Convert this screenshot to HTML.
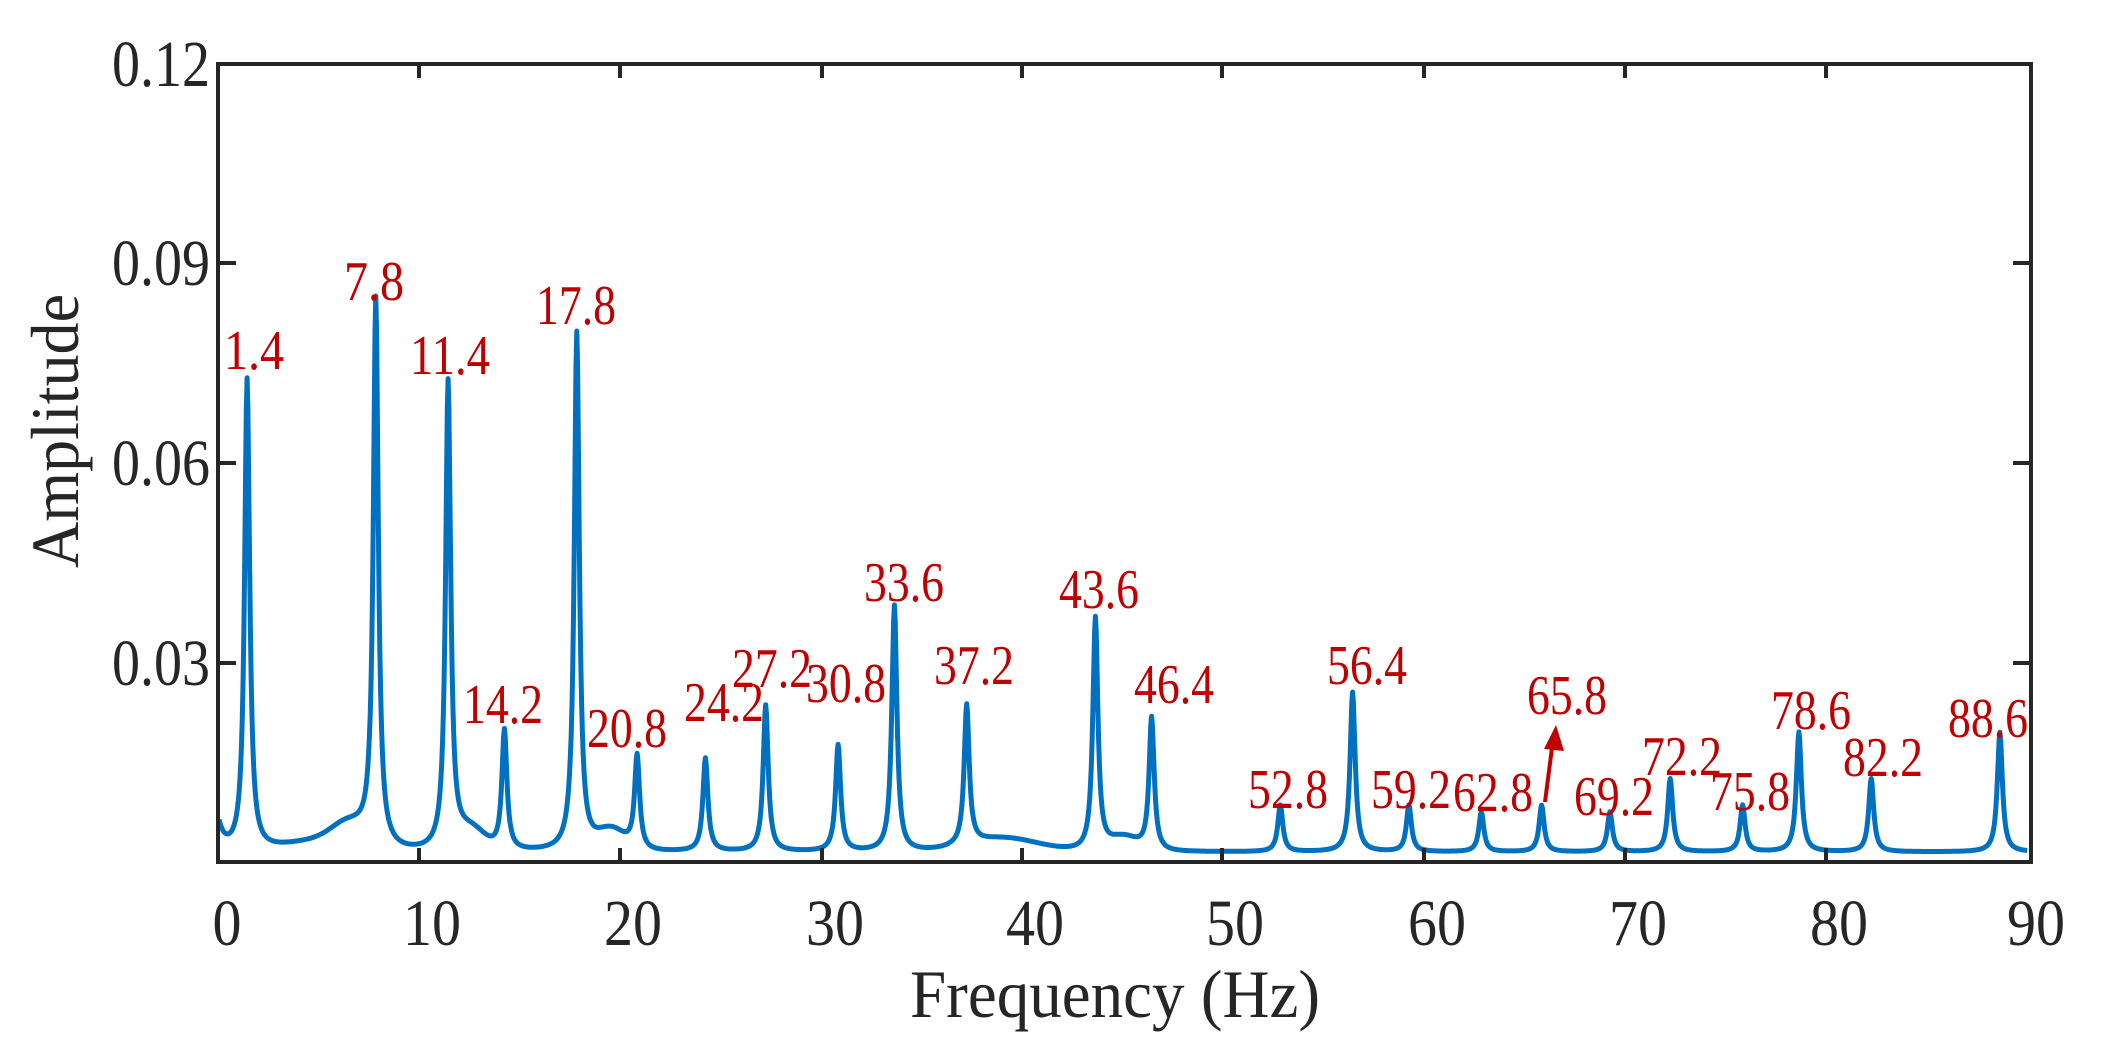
<!DOCTYPE html>
<html><head><meta charset="utf-8"><style>html,body{margin:0;padding:0;background:#fff}svg{display:block}</style></head>
<body>
<svg id="s" width="2104" height="1048" viewBox="0 0 2104 1048" xmlns="http://www.w3.org/2000/svg" font-family="Liberation Serif, serif">
<rect width="2104" height="1048" fill="#fff"/>
<path id="curve" d="" fill="none" stroke="#0070c0" stroke-width="5" stroke-linejoin="round"/>
<g stroke="#262626" stroke-width="4" fill="none">
<rect x="218" y="64" width="1813" height="798"/>
<path d="M419,862v-14M620,862v-14M822,862v-14M1022,862v-14M1222,862v-14M1424,862v-14M1625,862v-14M1826,862v-14M419,64v14M620,64v14M822,64v14M1022,64v14M1222,64v14M1424,64v14M1625,64v14M1826,64v14M218,263h18M218,463h18M218,663h18M2031,263h-18M2031,463h-18M2031,663h-18"/>
</g>
<g font-size="66" fill="#262626" text-anchor="end" lengthAdjust="spacingAndGlyphs">
<text x="210" y="86" textLength="98" lengthAdjust="spacingAndGlyphs">0.12</text><text x="210" y="285" textLength="98" lengthAdjust="spacingAndGlyphs">0.09</text><text x="210" y="485" textLength="98" lengthAdjust="spacingAndGlyphs">0.06</text><text x="210" y="685" textLength="98" lengthAdjust="spacingAndGlyphs">0.03</text>
</g>
<g font-size="66" fill="#262626" text-anchor="middle">
<text x="227" y="945" textLength="29" lengthAdjust="spacingAndGlyphs">0</text><text x="432" y="945" textLength="58" lengthAdjust="spacingAndGlyphs">10</text><text x="633" y="945" textLength="58" lengthAdjust="spacingAndGlyphs">20</text><text x="835" y="945" textLength="58" lengthAdjust="spacingAndGlyphs">30</text><text x="1035" y="945" textLength="58" lengthAdjust="spacingAndGlyphs">40</text><text x="1235" y="945" textLength="58" lengthAdjust="spacingAndGlyphs">50</text><text x="1437" y="945" textLength="58" lengthAdjust="spacingAndGlyphs">60</text><text x="1638" y="945" textLength="58" lengthAdjust="spacingAndGlyphs">70</text><text x="1839" y="945" textLength="58" lengthAdjust="spacingAndGlyphs">80</text><text x="2036" y="945" textLength="58" lengthAdjust="spacingAndGlyphs">90</text>
</g>
<text x="1115" y="1017" font-size="68" fill="#262626" text-anchor="middle" textLength="410" lengthAdjust="spacingAndGlyphs">Frequency (Hz)</text>
<text transform="translate(78,431) rotate(-90)" font-size="68" fill="#262626" text-anchor="middle" textLength="274" lengthAdjust="spacingAndGlyphs">Amplitude</text>
<g font-size="56" fill="#c00000" text-anchor="middle" dominant-baseline="central">
<text x="254" y="351" textLength="60" lengthAdjust="spacingAndGlyphs">1.4</text><text x="374" y="282" textLength="60" lengthAdjust="spacingAndGlyphs">7.8</text><text x="450" y="356" textLength="80" lengthAdjust="spacingAndGlyphs">11.4</text><text x="576" y="306" textLength="80" lengthAdjust="spacingAndGlyphs">17.8</text><text x="503" y="705" textLength="80" lengthAdjust="spacingAndGlyphs">14.2</text><text x="627" y="729" textLength="80" lengthAdjust="spacingAndGlyphs">20.8</text><text x="724" y="703" textLength="80" lengthAdjust="spacingAndGlyphs">24.2</text><text x="772" y="669" textLength="80" lengthAdjust="spacingAndGlyphs">27.2</text><text x="846" y="684" textLength="80" lengthAdjust="spacingAndGlyphs">30.8</text><text x="904" y="583" textLength="80" lengthAdjust="spacingAndGlyphs">33.6</text><text x="974" y="666" textLength="80" lengthAdjust="spacingAndGlyphs">37.2</text><text x="1099" y="590" textLength="80" lengthAdjust="spacingAndGlyphs">43.6</text><text x="1174" y="685" textLength="80" lengthAdjust="spacingAndGlyphs">46.4</text><text x="1288" y="790" textLength="80" lengthAdjust="spacingAndGlyphs">52.8</text><text x="1367" y="666" textLength="80" lengthAdjust="spacingAndGlyphs">56.4</text><text x="1411" y="790" textLength="80" lengthAdjust="spacingAndGlyphs">59.2</text><text x="1493" y="793" textLength="80" lengthAdjust="spacingAndGlyphs">62.8</text><text x="1567" y="696" textLength="80" lengthAdjust="spacingAndGlyphs">65.8</text><text x="1614" y="797" textLength="80" lengthAdjust="spacingAndGlyphs">69.2</text><text x="1682" y="757" textLength="80" lengthAdjust="spacingAndGlyphs">72.2</text><text x="1750" y="792" textLength="80" lengthAdjust="spacingAndGlyphs">75.8</text><text x="1811" y="711" textLength="80" lengthAdjust="spacingAndGlyphs">78.6</text><text x="1883" y="758" textLength="80" lengthAdjust="spacingAndGlyphs">82.2</text><text x="1988" y="719" textLength="80" lengthAdjust="spacingAndGlyphs">88.6</text>
</g>
<line x1="1545" y1="802" x2="1553" y2="740" stroke="#c00000" stroke-width="4"/>
<polygon points="1556,725 1564,751 1544,749" fill="#c00000"/>
</svg>
<script>
var P=[[1.4,0.071],[7.8,0.082],[11.4,0.070],[14.2,0.018],[17.8,0.078],[20.8,0.014],[24.2,0.014],[27.2,0.022],[30.8,0.016],[33.6,0.037],[37.2,0.021],[43.6,0.035],[46.4,0.020],[52.8,0.007],[56.4,0.024],[59.2,0.007],[62.8,0.006],[65.8,0.007],[69.2,0.006],[72.2,0.011],[75.8,0.007],[78.6,0.018],[82.2,0.011],[88.6,0.018]];
function y(f){var v=0.0015;
v+=0.004*Math.exp(-f/0.3);
v+=0.0015*Math.exp(-Math.pow((f-5),2)/6);
v+=0.003*Math.exp(-Math.pow((f-6.5),2)/1.5);
v+=0.003*Math.exp(-Math.pow((f-12.5),2)/1);
v+=0.003*Math.exp(-Math.pow((f-19.5),2)/1);
v+=0.002*Math.exp(-Math.pow((f-39),2)/6);
v+=0.002*Math.exp(-Math.pow((f-45),2)/1);
for(var i=0;i<P.length;i++){var g=0.15,d=f-P[i][0];v+=P[i][1]*g*g/(d*d+g*g);}
return v;}
var d="";for(var f=0;f<=90;f+=0.04){var X=219+f*20.1,Y=862-y(f)*6653;d+=(f==0?"M":"L")+X.toFixed(1)+","+Y.toFixed(1);}
document.getElementById("curve").setAttribute("d",d);
</script>
</body></html>
